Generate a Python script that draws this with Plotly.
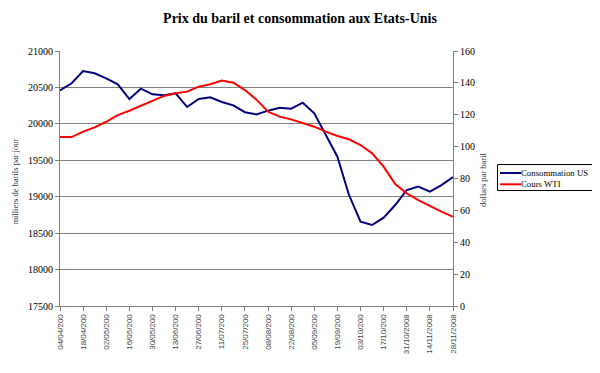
import plotly.graph_objects as go

dates = ["04/04/2008", "11/04/2008", "18/04/2008", "25/04/2008", "02/05/2008", "09/05/2008",
         "16/05/2008", "23/05/2008", "30/05/2008", "06/06/2008", "13/06/2008", "20/06/2008",
         "27/06/2008", "04/07/2008", "11/07/2008", "18/07/2008", "25/07/2008", "01/08/2008",
         "08/08/2008", "15/08/2008", "22/08/2008", "29/08/2008", "05/09/2008", "12/09/2008",
         "19/09/2008", "26/09/2008", "03/10/2008", "10/10/2008", "17/10/2008", "24/10/2008",
         "31/10/2008", "07/11/2008", "14/11/2008", "21/11/2008", "28/11/2008"]

consommation_us = [20460, 20557, 20725, 20694, 20625, 20543, 20341, 20483, 20405, 20392,
                   20419, 20231, 20341, 20364, 20300, 20254, 20160, 20130, 20181, 20222,
                   20208, 20290, 20145, 19847, 19549, 19024, 18657, 18612, 18712, 18886,
                   19092, 19138, 19069, 19160, 19270]

cours_wti = [106, 106, 109.4, 112.1, 115.6, 119.8, 122.5, 125.7, 128.6, 131.8,
             133.5, 134.5, 137.6, 139.1, 141.4, 140.1, 135.5, 129.5, 121.9, 118.8,
             117.1, 115, 112.5, 109.4, 106.7, 104.6, 101, 95.8, 87.4, 76.5,
             70.7, 66.5, 62.7, 59.2, 56]

tick_dates = dates[::2]
tick_labels = ["04/04/200", "18/04/200", "02/05/200", "16/05/200", "30/05/200", "13/06/200",
               "27/06/200", "11/07/200", "25/07/200", "08/08/200", "22/08/200", "05/09/200",
               "19/09/200", "03/10/200", "17/10/200", "31/10/2008", "14/11/2008", "28/11/2008"]

left_ticks = [17500, 18000, 18500, 19000, 19500, 20000, 20500, 21000]
right_ticks = [0, 20, 40, 60, 80, 100, 120, 140, 160]

series_names = ["Consommation US", "Cours WTI"]
series_colors = ["#000080", "#ff0000"]

serif = "Liberation Serif"

fig = go.Figure()
fig.add_trace(go.Scatter(x=dates, y=consommation_us, name=series_names[0], mode="lines",
                         line=dict(color=series_colors[0], width=2), yaxis="y"))
fig.add_trace(go.Scatter(x=dates, y=cours_wti, name=series_names[1], mode="lines",
                         line=dict(color=series_colors[1], width=2), yaxis="y2"))

# compact legend drawn in paper coordinates (plot area is 393 x 255 px)
W, H = 393.0, 255.0
def px(sx):
    return (sx - 60) / W
def py(sy):
    return (306 - sy) / H

shapes = [dict(type="rect", xref="paper", yref="paper",
               x0=px(497.5), x1=px(593), y0=py(190.5), y1=py(164.5),
               line=dict(color="black", width=1), fillcolor="white", layer="above")]
annotations = []
for i, (nm, col) in enumerate(zip(series_names, series_colors)):
    ly = py(173 + i * 11.3)
    shapes.append(dict(type="line", xref="paper", yref="paper",
                       x0=px(500), x1=px(521), y0=ly, y1=ly,
                       line=dict(color=col, width=2), layer="above"))
    annotations.append(dict(text=nm, xref="paper", yref="paper", x=px(521), y=ly,
                            xanchor="left", yanchor="middle", showarrow=False,
                            xshift=-2, font=dict(family=serif, size=8.8, color="black")))

annotations += [
    dict(text="milliers de barils par jour", xref="paper", yref="paper",
         x=-0.115, y=0.487, xanchor="center", yanchor="middle", textangle=-90,
         showarrow=False, font=dict(family=serif, size=8.5, color="#333333")),
    dict(text="dollars par baril", xref="paper", yref="paper",
         x=1.076, y=0.494, xanchor="center", yanchor="middle", textangle=-90,
         showarrow=False, font=dict(family=serif, size=8.5, color="#333333")),
]

fig.update_layout(
    width=592, height=365,
    margin=dict(l=52, r=147, t=43, b=67, autoexpand=False),
    paper_bgcolor="white", plot_bgcolor="white",
    title=dict(text="<b>Prix du baril et consommation aux Etats-Unis</b>",
               x=292 / 592, xanchor="center", y=1 - 10 / 365, yanchor="middle",
               font=dict(family=serif, size=14, color="black")),
    xaxis=dict(type="category", range=[0, len(dates) - 1], automargin=False,
               tickmode="array", tickvals=tick_dates, ticktext=tick_labels,
               tickangle=-90, tickfont=dict(family="Liberation Sans", size=8, color="#444444"),
               ticks="outside", ticklen=4, tickcolor="#808080",
               showline=True, linecolor="#808080", linewidth=1,
               showgrid=False, zeroline=False),
    yaxis=dict(range=[17500, 21000], tickmode="array", tickvals=left_ticks,
               ticktext=[str(v) for v in left_ticks], automargin=False,
               tickfont=dict(family=serif, size=10, color="black"),
               ticks="outside", ticklen=4, tickcolor="#808080",
               showline=True, linecolor="#808080", linewidth=1,
               showgrid=True, gridcolor="#808080", gridwidth=1, zeroline=False),
    yaxis2=dict(range=[0, 160], tickmode="array", tickvals=right_ticks,
                ticktext=[str(v) for v in right_ticks], automargin=False,
                overlaying="y", side="right",
                tickfont=dict(family=serif, size=10, color="black"),
                ticks="outside", ticklen=4, tickcolor="#808080",
                showline=True, linecolor="#808080", linewidth=1,
                showgrid=False, zeroline=False),
    showlegend=False,
    shapes=shapes,
    annotations=annotations,
)

fig.write_html("out.html")
